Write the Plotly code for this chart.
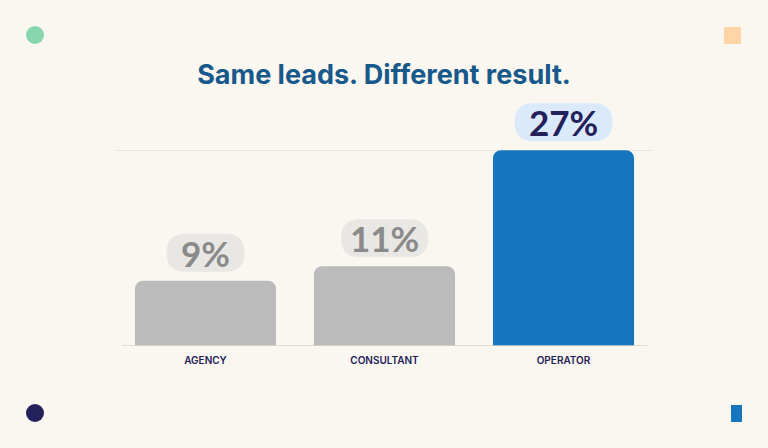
import plotly.graph_objects as go

# =========================
# DATA
# =========================
categories = ["AGENCY", "CONSULTANT", "OPERATOR"]
values = [9, 11, 27]
labels = ["9%", "11%", "27%"]
title_text = "Same leads. Different result."

# =========================
# STYLE
# =========================
W, H = 768, 448
ML, MR, MT, MB = 116, 115, 90, 102
Y_TOP = (H - MT - MB) / 7.25   # keeps ~7.25 px per percentage point
BG = "#faf7f0"
GREY_BAR = "#bbbbbb"
BLUE_BAR = "#1576bd"
NAVY = "#23205a"
TITLE_COLOR = "#16598a"

bar_colors = [GREY_BAR, GREY_BAR, BLUE_BAR]
pill_colors = ["#e9e7e3", "#e9e7e3", "#dbeafb"]
text_colors = ["#8a8a8a", "#8a8a8a", NAVY]
pill_widths = [78, 87, 98]


def rounded_rect(w, h, r, y_off):
    # path in pixels, centred on x anchor, starting y_off px above the y anchor
    x0, x1 = -w / 2, w / 2
    y0, y1 = y_off, y_off + h
    return (
        f"M{x0 + r},{y0} L{x1 - r},{y0} Q{x1},{y0} {x1},{y0 + r} "
        f"L{x1},{y1 - r} Q{x1},{y1} {x1 - r},{y1} L{x0 + r},{y1} "
        f"Q{x0},{y1} {x0},{y1 - r} L{x0},{y0 + r} Q{x0},{y0} {x0 + r},{y0} Z"
    )


def px_x(p):
    return (p - ML) / (W - ML - MR)


def px_y(p):
    return 1 - (p - MT) / (H - MT - MB)


fig = go.Figure()

fig.add_trace(
    go.Bar(
        x=categories,
        y=values,
        marker=dict(color=bar_colors, line=dict(width=0), cornerradius=8),
        hoverinfo="skip",
    )
)

shapes = []
annotations = []

# pills + value labels
for i, (v, lab) in enumerate(zip(values, labels)):
    shapes.append(dict(
        type="path", xref="x", yref="y",
        xsizemode="pixel", ysizemode="pixel",
        xanchor=i, yanchor=v,
        path=rounded_rect(pill_widths[i], 38, 19, 9),
        fillcolor=pill_colors[i], line=dict(width=0), layer="below",
    ))
    annotations.append(dict(
        x=i, y=v, xref="x", yref="y", text=lab, showarrow=False,
        yshift=28, yanchor="middle",
        font=dict(family="Lato", size=35, color=text_colors[i], weight=700),
    ))

# baseline
shapes.append(dict(
    type="line", xref="paper", yref="y",
    x0=px_x(122), x1=px_x(647), y0=0, y1=0,
    line=dict(color="#dcd5c3", width=1.5), layer="above",
))

# decorations
shapes += [
    dict(type="circle", xref="paper", yref="paper",
         x0=px_x(26), x1=px_x(44), y0=px_y(44), y1=px_y(26),
         fillcolor="#86d5ad", line=dict(width=0)),
    dict(type="rect", xref="paper", yref="paper",
         x0=px_x(724), x1=px_x(741), y0=px_y(44), y1=px_y(27),
         fillcolor="#ffd4a6", line=dict(width=0)),
    dict(type="circle", xref="paper", yref="paper",
         x0=px_x(26), x1=px_x(44), y0=px_y(422), y1=px_y(404),
         fillcolor=NAVY, line=dict(width=0)),
    dict(type="rect", xref="paper", yref="paper",
         x0=px_x(731), x1=px_x(742), y0=px_y(422), y1=px_y(405),
         fillcolor=BLUE_BAR, line=dict(width=0)),
]

fig.update_layout(
    width=W, height=H,
    margin=dict(l=ML, r=MR, t=MT, b=MB),
    paper_bgcolor=BG, plot_bgcolor=BG,
    bargap=0.212,
    showlegend=False,
    title=dict(
        text=title_text, x=0.5, xanchor="center",
        y=1 - 75 / H, yanchor="middle", yref="container",
        font=dict(family="Inter", size=27, color=TITLE_COLOR, weight=700),
    ),
    shapes=shapes,
    annotations=annotations,
)

fig.update_xaxes(
    showgrid=False, showline=False, zeroline=False, ticks="",
    tickfont=dict(family="Inter", size=10, color=NAVY, weight=600),
    ticklabelstandoff=7,
)
fig.update_yaxes(
    range=[0, Y_TOP], tickvals=[27], showticklabels=False,
    showgrid=True, gridcolor="#ece6da", gridwidth=1,
    zeroline=False, showline=False,
)

fig.write_html(
    "out.html",
    config={"displayModeBar": False},
    post_script="document.body.style.margin='0';"
                "document.body.style.background='#faf7f0';",
)
